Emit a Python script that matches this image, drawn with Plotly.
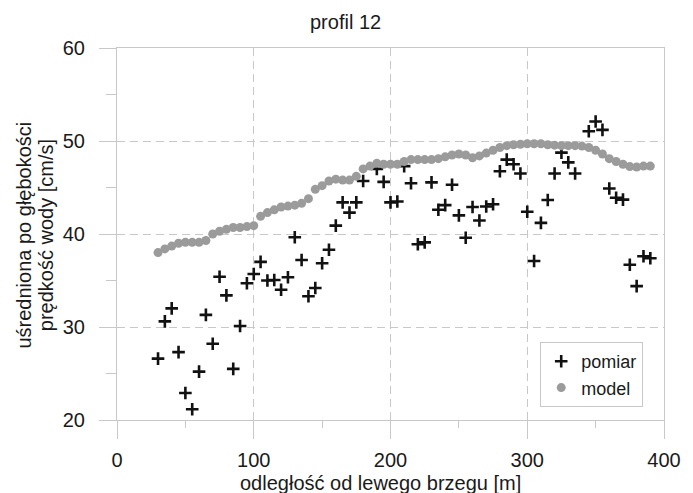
import plotly.graph_objects as go

# ---- data ----
model_x = [30, 35, 40, 45, 50, 55, 60, 65, 70, 75, 80, 85, 90, 95, 100,
           105, 110, 115, 120, 125, 130, 135, 140, 145, 150, 155, 160, 165, 170, 175,
           180, 185, 190, 195, 200, 205, 210, 215, 220, 225, 230, 235, 240, 245, 250,
           255, 260, 265, 270, 275, 280, 285, 290, 295, 300, 305, 310, 315, 320, 325,
           330, 335, 340, 345, 350, 355, 360, 365, 370, 375, 380, 385, 390]
model_y = [38.0, 38.4, 38.7, 39.0, 39.1, 39.1, 39.1, 39.3, 40.0, 40.3, 40.5, 40.7, 40.7, 40.8, 40.9,
           41.9, 42.3, 42.6, 42.9, 43.0, 43.1, 43.3, 43.8, 44.8, 45.2, 45.7, 45.9, 45.8, 45.8, 46.2,
           47.0, 47.3, 47.6, 47.5, 47.5, 47.5, 47.8, 48.0, 48.0, 48.0, 48.0, 48.1, 48.3, 48.5, 48.6,
           48.5, 48.2, 48.4, 48.7, 49.0, 49.3, 49.5, 49.6, 49.65, 49.7, 49.7, 49.7, 49.6, 49.55, 49.5,
           49.5, 49.5, 49.45, 49.3, 49.0, 48.6, 48.1, 47.8, 47.5, 47.25, 47.2, 47.3, 47.3]

meas_x = [30, 35, 40, 45, 50, 55, 60, 65, 70, 75, 80, 85, 90, 95, 100,
          105, 110, 115, 120, 125, 130, 135, 140, 145, 150, 155, 160, 165, 170, 175,
          180, 190, 195, 200, 205, 210, 215, 220, 225, 230, 235, 240, 245, 250,
          255, 260, 265, 270, 275, 280, 285, 290, 295, 300, 305, 310, 315, 320, 325,
          330, 335, 345, 350, 355, 360, 365, 370, 375, 380, 385, 390]
meas_y = [26.6, 30.6, 32.0, 27.3, 22.9, 21.15, 25.2, 31.3, 28.2, 35.4, 33.4, 25.5, 30.1, 34.7, 35.7,
          37.0, 35.0, 35.05, 34.0, 35.35, 39.65, 37.2, 33.3, 34.2, 36.85, 38.3, 40.9, 43.4, 42.3, 43.4,
          45.7, 47.0, 45.6, 43.4, 43.5, 47.3, 45.45, 38.9, 39.1, 45.55, 42.6, 43.1, 45.3, 42.0,
          39.6, 42.9, 41.45, 42.95, 43.2, 46.75, 48.0, 47.5, 46.5, 42.4, 37.1, 41.2, 43.65, 46.5, 48.75,
          47.7, 46.5, 51.05, 52.1, 51.2, 44.9, 43.9, 43.7, 36.7, 34.4, 37.6, 37.4]

x_ticks = [0, 100, 200, 300, 400]
y_ticks = [20, 30, 40, 50, 60]

title_text = "profil 12"
x_title = "odległość od lewego brzegu [m]"
y_title_1 = "uśredniona po głębokości"
y_title_2 = "prędkość wody [cm/s]"

FONT = "Liberation Sans, Arial, sans-serif"
GRID = "#c8c8c8"
TXT = "#1a1a1a"

fig = go.Figure()
fig.add_trace(go.Scatter(
    x=meas_x, y=meas_y, mode="markers", name="pomiar",
    marker=dict(symbol="cross-thin", size=9, color="#111111",
                line=dict(width=2.6, color="#111111")),
))
fig.add_trace(go.Scatter(
    x=model_x, y=model_y, mode="markers", name="model",
    marker=dict(symbol="circle", size=9, color="#9b9b9b", line=dict(width=0)),
))

fig.update_layout(
    width=693, height=493,
    margin=dict(l=117, r=20, t=48, b=73),
    paper_bgcolor="white", plot_bgcolor="white",
    font=dict(family=FONT, size=20, color=TXT),
    showlegend=True,
    legend=dict(
        x=0.962, y=0.2097, xanchor="right", yanchor="top",
        bgcolor="white", bordercolor=GRID, borderwidth=1,
        font=dict(family=FONT, size=18, color=TXT),
        tracegroupgap=0, itemwidth=30,
    ),
    annotations=[
        dict(text=title_text, xref="paper", yref="paper",
             x=(349 - 117) / 556, y=(420 - 22) / 372, xanchor="center", yanchor="middle",
             showarrow=False, font=dict(family=FONT, size=20, color=TXT)),
        dict(text=x_title, xref="paper", yref="paper",
             x=(384.5 - 117) / 556, y=(420 - 483) / 372, xanchor="center", yanchor="middle",
             showarrow=False, font=dict(family=FONT, size=20, color=TXT)),
        dict(text=y_title_1, xref="paper", yref="paper",
             x=(22 - 117) / 556, y=(420 - 235) / 372, xanchor="center", yanchor="middle",
             textangle=-90, showarrow=False, font=dict(family=FONT, size=20, color=TXT)),
        dict(text=y_title_2, xref="paper", yref="paper",
             x=(45 - 117) / 556, y=(420 - 235) / 372, xanchor="center", yanchor="middle",
             textangle=-90, showarrow=False, font=dict(family=FONT, size=20, color=TXT)),
    ],
)

fig.update_xaxes(
    range=[0, 400], tickvals=x_ticks, ticktext=[str(v) for v in x_ticks],
    showline=True, linecolor=GRID, linewidth=1, mirror=True,
    showgrid=True, gridcolor=GRID, gridwidth=1, griddash="8px,5px",
    ticks="outside", ticklen=18, tickcolor=GRID, tickwidth=1,
    minor=dict(tickvals=[50, 150, 250, 350], ticks="outside", ticklen=7,
               tickcolor=GRID, tickwidth=1, showgrid=False),
    zeroline=False, ticklabelstandoff=4,
    tickfont=dict(family=FONT, size=20, color=TXT),
)
fig.update_yaxes(
    range=[20, 60], tickvals=y_ticks, ticktext=[str(v) for v in y_ticks],
    showline=True, linecolor=GRID, linewidth=1, mirror=True,
    showgrid=True, gridcolor=GRID, gridwidth=1, griddash="8px,5px",
    ticks="outside", ticklen=17, tickcolor=GRID, tickwidth=1,
    minor=dict(tickvals=[25, 35, 45, 55], ticks="outside", ticklen=10,
               tickcolor=GRID, tickwidth=1, showgrid=False),
    zeroline=False, ticklabelstandoff=10,
    tickfont=dict(family=FONT, size=20, color=TXT),
)

fig.write_html("out.html")
